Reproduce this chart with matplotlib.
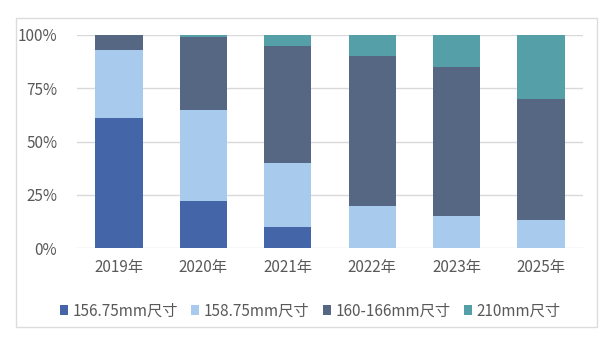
import numpy as np
import matplotlib.pyplot as plt
from matplotlib.patches import Rectangle

plt.rcParams['font.family'] = ['Noto Sans CJK SC', 'DejaVu Sans']

years = ['2019年', '2020年', '2021年', '2022年', '2023年', '2025年']
size_15675 = [61, 22, 10, 0, 0, 0]
size_15875 = [32, 43, 30, 20, 15, 13]
size_160_166 = [7, 34, 55, 70, 70, 57]
size_210 = [0, 1, 5, 10, 15, 30]

series = [
    ('156.75mm尺寸', size_15675, '#4565a9'),
    ('158.75mm尺寸', size_15875, '#a8caed'),
    ('160-166mm尺寸', size_160_166, '#566784'),
    ('210mm尺寸', size_210, '#549fa8'),
]

fig = plt.figure(figsize=(6, 3.39), dpi=100)
ax = fig.add_axes([0.128, 0.268, 0.844, 0.629])

# outer light frame
fig.patches.append(Rectangle((0.027, 0.035), 0.968, 0.912, transform=fig.transFigure,
                             fill=False, edgecolor='#dcdcdc', linewidth=1.0))

x = np.arange(len(years))
bottom = np.zeros(len(years))
for label, vals, color in series:
    vals = np.array(vals, dtype=float)
    ax.bar(x, vals, 0.56, bottom=bottom, color=color, label=label, zorder=3)
    bottom += vals

ax.set_xlim(-0.5, len(years) - 0.5)
ax.set_ylim(0, 100)
ax.set_yticks([0, 25, 50, 75, 100])
ax.set_yticklabels(['0%', '25%', '50%', '75%', '100%'])
ax.set_xticks(x)
ax.set_xticklabels(years)
ax.grid(axis='y', color='#d9d9d9', linewidth=1.0, zorder=0)
for s in ax.spines.values():
    s.set_visible(False)
ax.tick_params(axis='both', length=0, labelsize=11, labelcolor='#595959')
ax.tick_params(axis='x', pad=8)
ax.tick_params(axis='y', pad=14)

fig.legend(loc='center', bbox_to_anchor=(0.517, 0.083), ncol=4, frameon=False,
           fontsize=11, labelcolor='#595959', handlelength=0.55, handleheight=0.55,
           handletextpad=0.3, columnspacing=0.85)

fig.savefig('out.png', dpi=100)
